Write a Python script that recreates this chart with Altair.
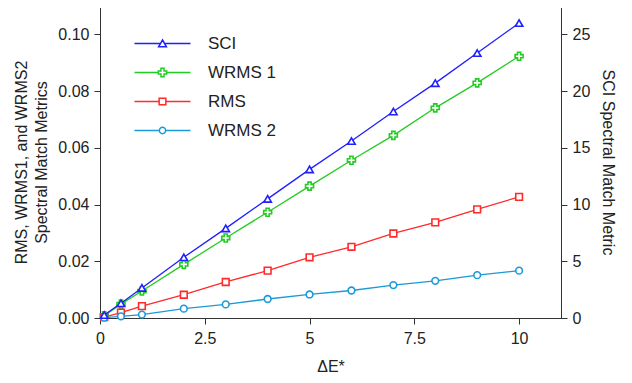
import altair as alt
import pandas as pd

# ---- data ----
x = [0.1, 0.5, 1, 2, 3, 4, 5, 6, 7, 8, 9, 10]
sci = [0.26, 1.3, 2.65, 5.35, 7.9, 10.5, 13.1, 15.6, 18.2, 20.7, 23.35, 26.0]
wrms1 = [0.0008, 0.0049, 0.0095, 0.0189, 0.0282, 0.0373, 0.0465, 0.0556, 0.0644, 0.0741, 0.0829, 0.0923]
rms = [0.0003, 0.0019, 0.0042, 0.0082, 0.0127, 0.0167, 0.0214, 0.0251, 0.0298, 0.0337, 0.0383, 0.0427]
wrms2 = [0.0001, 0.0006, 0.0012, 0.0033, 0.0048, 0.0067, 0.0083, 0.0097, 0.0116, 0.0131, 0.0151, 0.0167]

series_names = ["SCI", "WRMS 1", "RMS", "WRMS 2"]
colors = ["#1f1fff", "#22cc22", "#ff2a2a", "#1a9ad6"]
marker_shapes = {"SCI": "triangle-up", "WRMS 1": "cross", "RMS": "square", "WRMS 2": "circle"}
marker_sizes = {"SCI": 55, "WRMS 1": 64, "RMS": 45, "WRMS 2": 45}

# legend symbols: line segment + marker (custom paths)
legend_paths = [
    "M-4,0H-0.28M0.28,0H4M0,-0.5L0.55,0.45L-0.55,0.45Z",
    "M-4,0H-0.6M0.6,0H4M-0.22,-0.6H0.22V-0.22H0.6V0.22H0.22V0.6H-0.22V0.22H-0.6V-0.22H-0.22Z",
    "M-4,0H-0.48M0.48,0H4M-0.48,-0.48H0.48V0.48H-0.48Z",
    "M-4,0H-0.45M0.45,0H4M0.45,0A0.45,0.45,0,1,1,-0.45,0A0.45,0.45,0,1,1,0.45,0Z",
]

left_df = pd.DataFrame({
    "x": x * 3,
    "value": wrms1 + rms + wrms2,
    "series": ["WRMS 1"] * len(x) + ["RMS"] * len(x) + ["WRMS 2"] * len(x),
})
sci_df = pd.DataFrame({"x": x, "value": sci, "series": ["SCI"] * len(x)})

FONT = "Liberation Sans"
TXT = "#222222"

color_scale = alt.Scale(domain=series_names, range=colors)

legend = alt.Legend(orient="none", legendX=54, legendY=29, title=None,
                    labelFontSize=17, labelFont=FONT, labelColor=TXT,
                    labelOffset=37, rowPadding=11, symbolSize=196,
                    symbolStrokeWidth=1.5, symbolOpacity=1, padding=0)

x_enc = alt.X(
    "x:Q",
    scale=alt.Scale(domain=[0, 11], nice=False),
    axis=alt.Axis(values=[0, 2.5, 5, 7.5, 10], labelExpr="'' + datum.value", title="ΔE*",
                  grid=False, tickSize=6, labelPadding=6, titlePadding=12,
                  labelFontSize=16, titleFontSize=16, titleFontWeight="normal",
                  labelFont=FONT, titleFont=FONT, labelColor=TXT, titleColor=TXT,
                  domainColor="#333333", tickColor="#333333", labelFlush=False),
)

y_left = alt.Y(
    "value:Q",
    scale=alt.Scale(domain=[0, 0.11], nice=False),
    axis=alt.Axis(values=[0, 0.02, 0.04, 0.06, 0.08, 0.10], format=".2f",
                  title=["RMS, WRMS1, and WRMS2", "Spectral Match Metrics"],
                  grid=False, tickSize=6, labelPadding=5, titlePadding=8,
                  titleLineHeight=20,
                  labelFontSize=16, titleFontSize=16, titleFontWeight="normal",
                  labelFont=FONT, titleFont=FONT, labelColor=TXT, titleColor=TXT,
                  domainColor="#333333", tickColor="#333333", labelFlush=False),
)

y_right = alt.Y(
    "value:Q",
    scale=alt.Scale(domain=[0, 27.5], nice=False),
    axis=alt.Axis(orient="right", values=[0, 5, 10, 15, 20, 25], format="d",
                  title="SCI Spectral Match Metric",
                  grid=False, tickSize=6, labelPadding=5, titlePadding=10,
                  labelFontSize=16, titleFontSize=16, titleFontWeight="normal",
                  labelFont=FONT, titleFont=FONT, labelColor=TXT, titleColor=TXT,
                  domainColor="#333333", tickColor="#333333", labelFlush=False),
)


def points(df, name, y_enc):
    return alt.Chart(df).transform_filter(alt.datum.series == name).mark_point(
        shape=marker_shapes[name], size=marker_sizes[name], filled=False,
        fill="white", fillOpacity=1, strokeWidth=1.6, opacity=1,
    ).encode(x=x_enc, y=y_enc, color=alt.Color("series:N", scale=color_scale, legend=legend))


left_lines = alt.Chart(left_df).mark_line(strokeWidth=1.3).encode(
    x=x_enc, y=y_left, detail="series:N",
    color=alt.Color("series:N", scale=color_scale, legend=legend),
)

# layer that only feeds the legend (its data is filtered out, domains are explicit)
legend_layer = alt.Chart(left_df).transform_filter(alt.datum.x > 1000).mark_point(
    strokeWidth=1.5, filled=False
).encode(
    x=x_enc, y=y_left,
    color=alt.Color("series:N", scale=color_scale, legend=legend),
    shape=alt.Shape("series:N", scale=alt.Scale(domain=series_names, range=legend_paths), legend=legend),
)

left = alt.layer(
    left_lines,
    points(left_df, "WRMS 1", y_left),
    points(left_df, "RMS", y_left),
    points(left_df, "WRMS 2", y_left),
    legend_layer,
)

sci_line = alt.Chart(sci_df).mark_line(strokeWidth=1.3).encode(
    x=x_enc, y=y_right,
    color=alt.Color("series:N", scale=color_scale, legend=legend),
)

right = alt.layer(sci_line, points(sci_df, "SCI", y_right))

chart = alt.layer(left, right).resolve_scale(y="independent").properties(
    width=461, height=312,
    padding={"left": 5, "right": 5, "top": -2, "bottom": 5},
    background="white",
).configure_view(stroke="#333333", strokeWidth=1)

chart.save("out.html", embed_options={"renderer": "svg", "actions": False})
